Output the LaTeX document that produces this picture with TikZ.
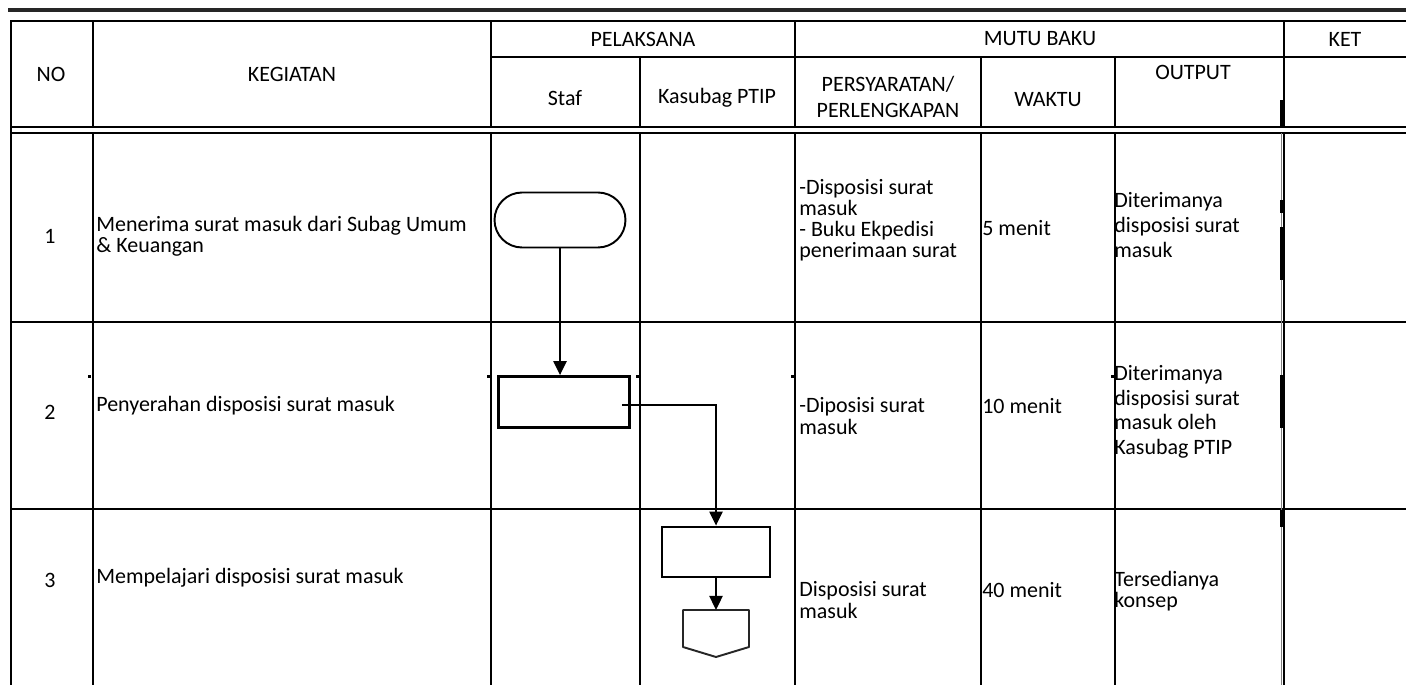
\documentclass[tikz,border=0pt]{standalone}
\usepackage{fontspec}
\setmainfont{Carlito}
\usetikzlibrary{arrows.meta}

\begin{document}
\begin{tikzpicture}[x=0.02cm,y=-0.02cm,
  grid/.style={line width=1.6pt},
  txt/.style={inner sep=0pt,font=\fontsize{12.5}{12}\selectfont},
  cell/.style={txt,anchor=west,align=left},
  wide/.style={font=\fontsize{12.5}{14}\selectfont},
  flow/.style={line width=1.1pt,-{Triangle[length=8pt,width=7.5pt]}}]
\useasboundingbox (0,0) rectangle (1406,685);
% top rule
\draw[line width=1.8pt,black!85] (8,10) -- (1406,10);
% header frame
\draw[grid] (11,685) -- (11,21) -- (1406,21);
\draw[grid] (491,57) -- (1406,57);
\draw[grid] (11,127) -- (1406,127);
\draw[grid] (11,133) -- (1406,133);
\foreach \x in {93,491,795,1284} \draw[grid] (\x,21) -- (\x,127);
\foreach \x in {640,981,1115} \draw[grid] (\x,57) -- (\x,127);
% body grid
\foreach \x in {93,491,640,795,981,1115,1284} \draw[grid] (\x,133) -- (\x,685);
\foreach \y in {322,509} \draw[grid] (11,\y) -- (1406,\y);
% doubled edge before KET
\draw[gray,line width=0.5pt] (1281,133) -- (1281,685);
\foreach \ya/\yb in {100/127,200/213,227/280,375/428,510/527}
  \fill (1279.5,\ya) rectangle (1283,\yb);
\foreach \x in {89,488,637,792,1112}
  \fill (\x-1.5,375.5) rectangle (\x+1.5,378.5);
% header texts
\node[txt] (hno) at (51,74) {NO};
\node[txt] (hkeg) at (292,74) {KEGIATAN};
\node[txt] (hpel) at (643,39) {PELAKSANA};
\node[txt] (hmutu) at (1040,39) {MUTU BAKU};
\node[txt] (hket) at (1345,39) {KET};
\node[txt] (hstaf) at (565,98) {Staf};
\node[txt] (hkas) at (717,98) {Kasubag PTIP};
\node[txt,align=center,font=\fontsize{12.5}{14.5}\selectfont] (hsyarat) at (888,97) {PERSYARATAN/\\PERLENGKAPAN};
\node[txt] (hwaktu) at (1048,100) {WAKTU};
\node[txt] (houtput) at (1193,72) {OUTPUT};
% row 1
\node[txt] (no1) at (50,236) {1};
\node[cell] (keg1) at (96,236) {Menerima surat masuk dari Subag Umum\\\& Keuangan};
\node[cell] (syarat1) at (799,220) {-Disposisi surat\\masuk\\- Buku Ekpedisi\\penerimaan surat};
\node[cell] (waktu1) at (982,228) {5 menit};
\node[cell,wide] (out1) at (1114,225) {Diterimanya\\disposisi surat\\masuk};
% row 2
\node[txt] (no2) at (50,412) {2};
\node[cell] (keg2) at (96,406) {Penyerahan disposisi surat masuk};
\node[cell] (syarat2) at (799,416) {-Diposisi surat\\masuk};
\node[cell] (waktu2) at (982,406) {10 menit};
\node[cell,wide] (out2) at (1114,412) {Diterimanya\\disposisi surat\\masuk oleh\\Kasubag PTIP};
% row 3
\node[txt] (no3) at (50,580) {3};
\node[cell] (keg3) at (96,578) {Mempelajari disposisi surat masuk};
\node[cell] (syarat3) at (799,600) {Disposisi surat\\masuk};
\node[cell] (waktu3) at (982,590) {40 menit};
\node[cell] (out3) at (1114,591) {Tersedianya\\konsep};
% flow symbols
\node[draw,line width=1.1pt,rounded corners=0.55cm,minimum width=2.62cm,minimum height=1.1cm] (start) at (560,220) {};
\node[draw,line width=1.6pt,minimum width=2.62cm,minimum height=1.02cm] (serah) at (564,402) {};
\node[draw,line width=1.6pt,minimum width=2.16cm,minimum height=1cm] (pelajari) at (716,552) {};
\coordinate (offpage) at (716,610);
\draw[line width=1.1pt,black!85,line join=round] (offpage) -- ++(33,0) -- ++(0,37) -- ++(-33,10) -- ++(-33,-10) -- ++(0,-37) -- cycle;
% connectors
\draw[flow] (start.south) -- (start.south |- serah.north);
\draw[flow] ([shift={(-9,3)}]serah.east) -| (pelajari.north);
\draw[flow] (pelajari.south) -- (offpage);
\end{tikzpicture}
\end{document}
